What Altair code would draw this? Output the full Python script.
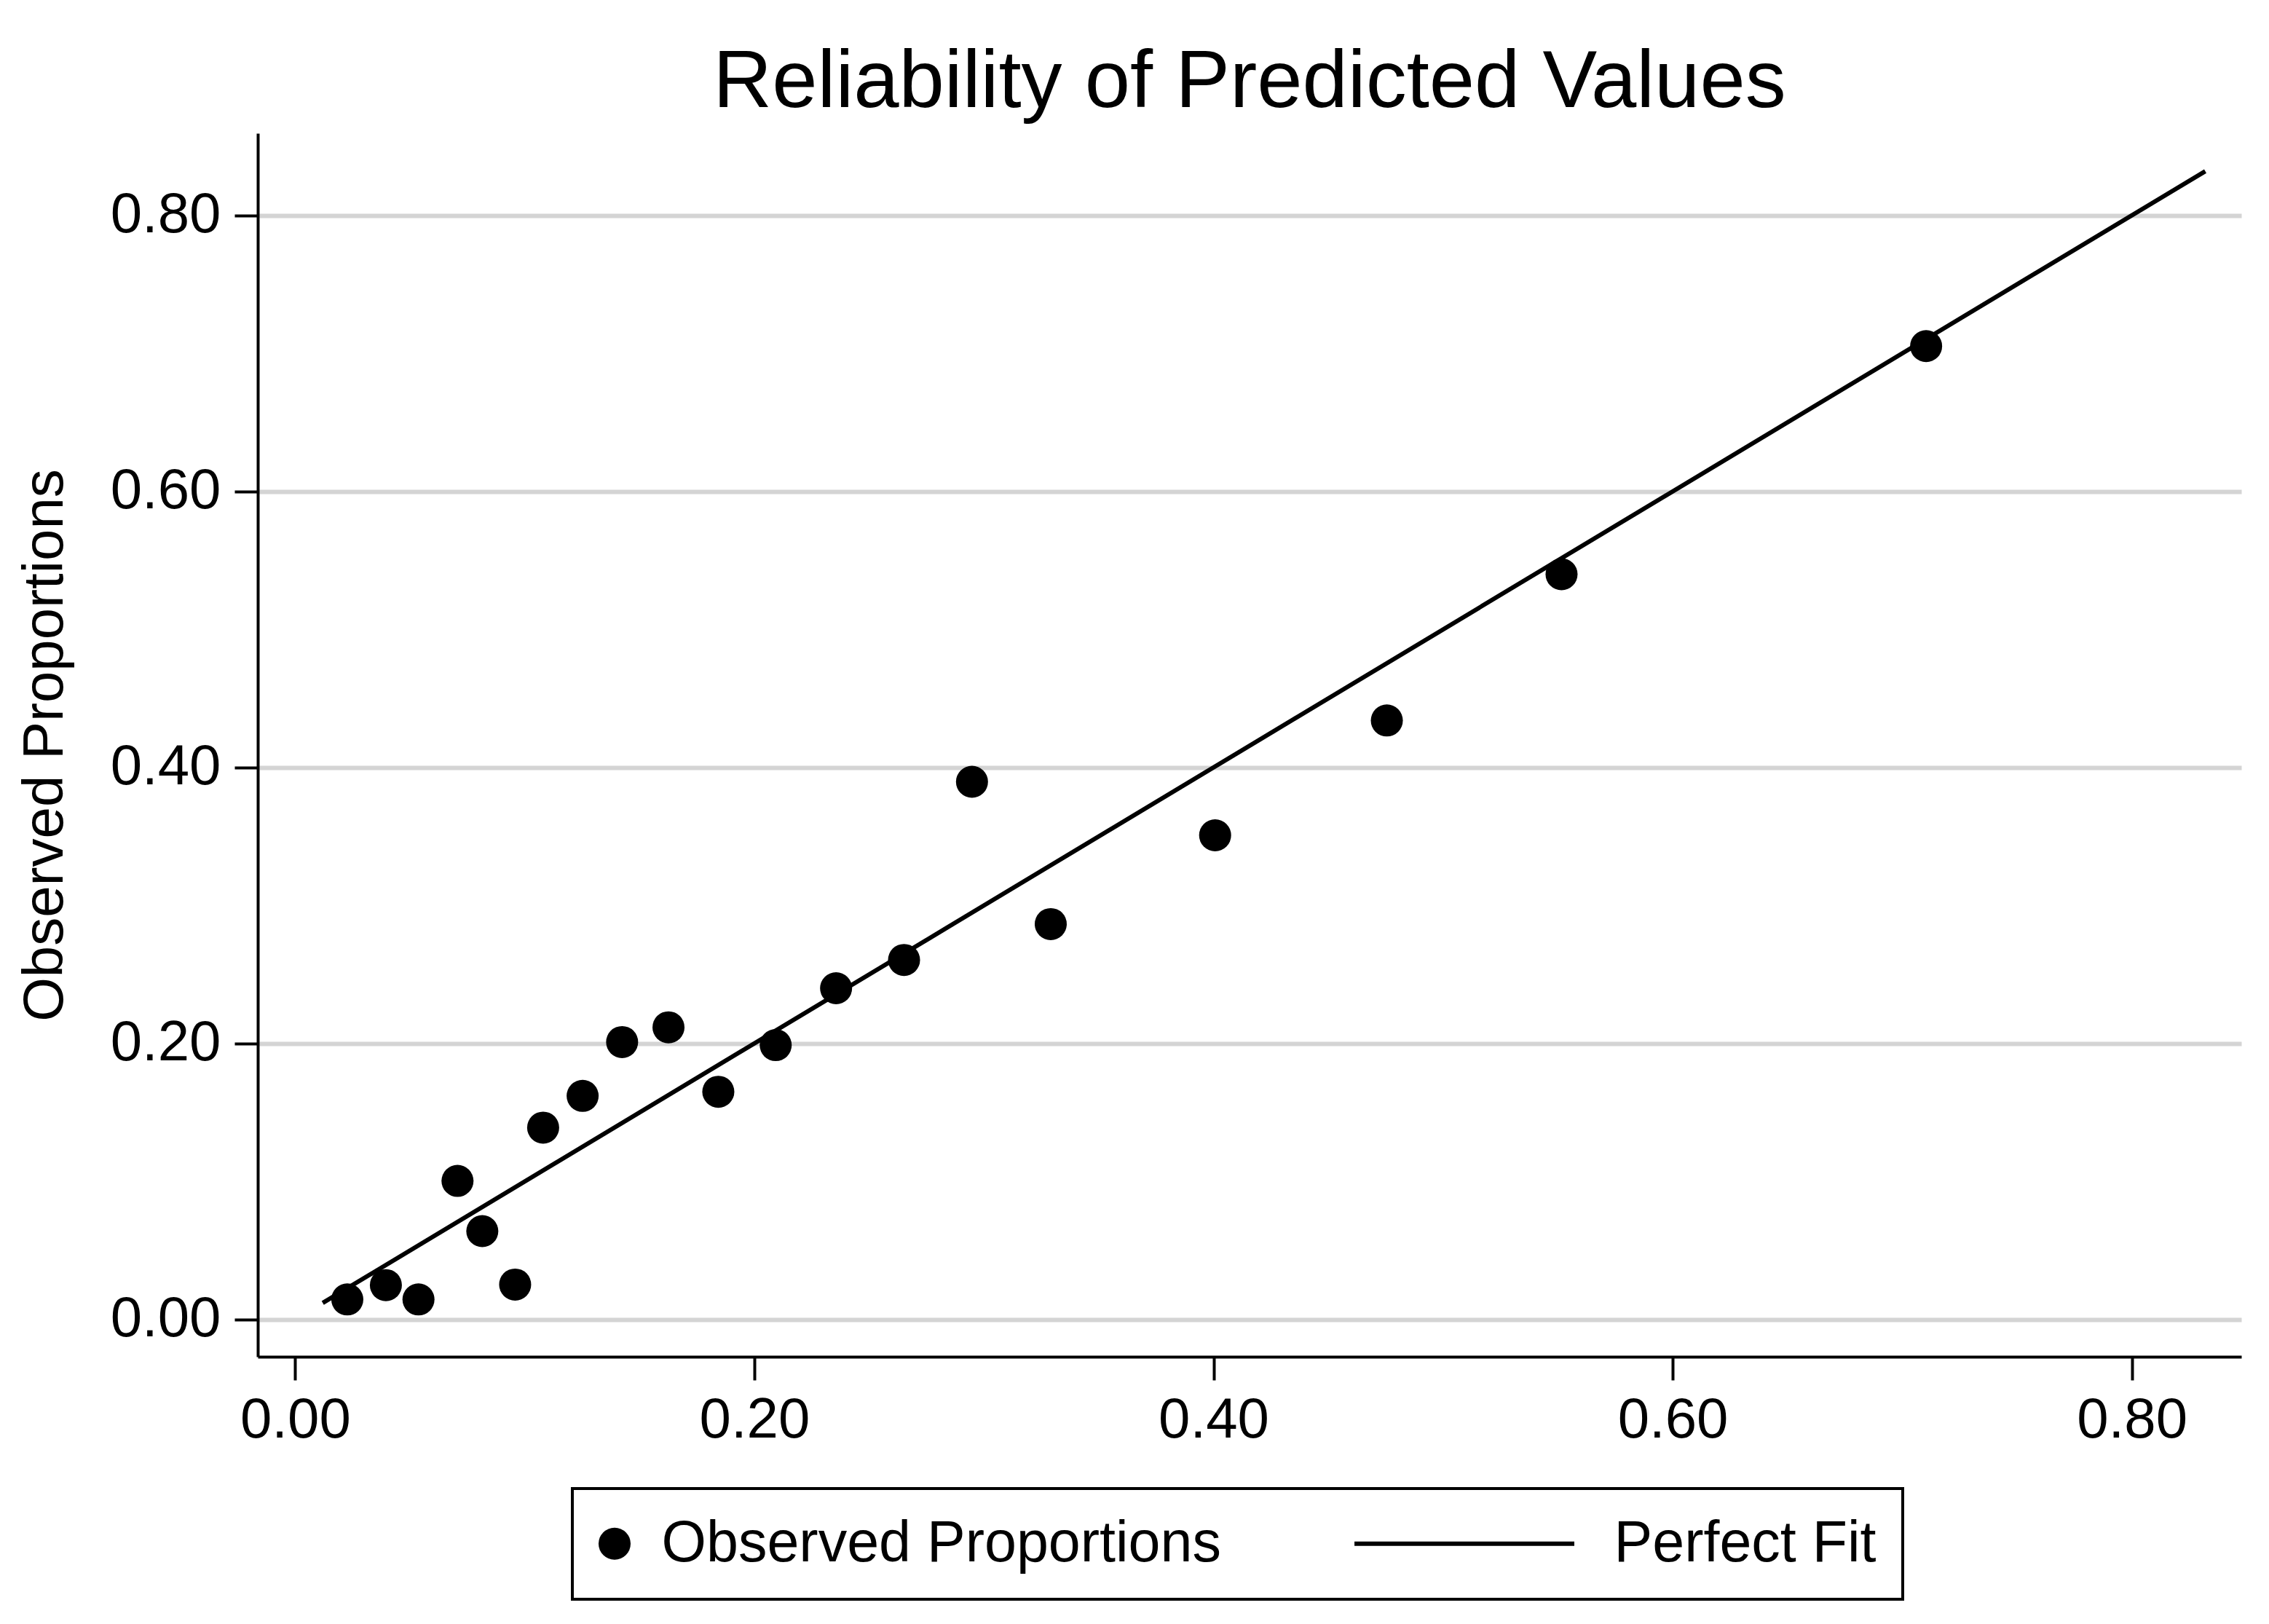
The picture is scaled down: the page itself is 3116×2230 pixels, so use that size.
import altair as alt
import pandas as pd

# ---- data ----
pred = [0.0227, 0.0395, 0.0537, 0.0707, 0.0815, 0.0958, 0.1080, 0.1252, 0.1424, 0.1626,
        0.1843, 0.2093, 0.2356, 0.2652, 0.2948, 0.3291, 0.4007, 0.4755, 0.5516, 0.7104]
obs = [0.0145, 0.0249, 0.0145, 0.1004, 0.0640, 0.0253, 0.1390, 0.1620, 0.2010, 0.2117,
       0.1650, 0.1988, 0.2400, 0.2605, 0.3896, 0.2865, 0.3508, 0.4340, 0.5400, 0.7053]
fit_x = [0.012, 0.832]
fit_y = [0.012, 0.832]
series_names = ["Observed Proportions", "Perfect Fit"]
x_ticks = [0.0, 0.2, 0.4, 0.6, 0.8]
y_ticks = [0.0, 0.2, 0.4, 0.6, 0.8]

pts = pd.DataFrame({"pred": pred, "obs": obs, "series": series_names[0]})
fit = pd.DataFrame({"pred": fit_x, "obs": fit_y, "series": series_names[1]})

FONT = "Liberation Sans"

xscale = alt.Scale(domain=[-0.0163, 0.8477], nice=False, zero=False)
yscale = alt.Scale(domain=[-0.027, 0.8595], nice=False, zero=False)

xaxis = alt.Axis(values=x_ticks, format=".2f", title=None, grid=False,
                 tickSize=32, tickWidth=4, tickColor="black",
                 domainColor="black", domainWidth=4,
                 labelFont=FONT, labelFontSize=78, labelColor="black",
                 labelPadding=16, labelFlush=False, labelOverlap=False)
yaxis = alt.Axis(values=y_ticks, format=".2f", title="Observed Proportions",
                 grid=True, gridColor="#d4d4d4", gridWidth=6,
                 tickSize=32, tickWidth=4, tickColor="black",
                 domainColor="black", domainWidth=4,
                 labelFont=FONT, labelFontSize=78, labelColor="black",
                 labelPadding=19, labelFlush=False, labelOverlap=False,
                 titleFont=FONT, titleFontSize=78, titleFontWeight="normal",
                 titleColor="black", titlePadding=53)

# legend symbols: filled circle, and a thin filled bar standing for the fit line
line_symbol = "M-13.27,-0.136H0.4545V0.136H-13.27Z"

legend = alt.Legend(title=None, orient="none", legendX=432, legendY=1861,
                    direction="horizontal", columns=2, columnPadding=180,
                    symbolSize=1936, symbolFillColor="black", symbolOpacity=1,
                    symbolOffset=-17.5,
                    labelFont=FONT, labelFontSize=79, labelColor="black",
                    labelOffset=25, labelLimit=0,
                    padding=36, strokeColor="black", fillColor="white")

points = alt.Chart(pts).mark_point(filled=True, color="black", size=1936, opacity=1).encode(
    x=alt.X("pred:Q", scale=xscale, axis=xaxis),
    y=alt.Y("obs:Q", scale=yscale, axis=yaxis),
    shape=alt.Shape("series:N",
                    scale=alt.Scale(domain=series_names, range=["circle", line_symbol]),
                    legend=legend),
)

line = alt.Chart(fit).mark_line(color="black", strokeWidth=6).encode(
    x=alt.X("pred:Q", scale=xscale, axis=xaxis),
    y=alt.Y("obs:Q", scale=yscale, axis=yaxis),
)

chart = alt.layer(points, line).properties(
    width=2724,
    height=1680,
    title=alt.TitleParams("Reliability of Predicted Values", font=FONT, fontSize=112,
                          fontWeight="normal", color="black", anchor="middle",
                          frame="group", offset=12),
    autosize=alt.AutoSizeParams(type="none"),
    padding={"left": 346, "top": 175, "right": 30, "bottom": 345},
    background="white",
).configure_view(stroke=None).configure_legend(strokeWidth=4)

chart.save("out.html", embed_options={"renderer": "svg", "actions": False})
